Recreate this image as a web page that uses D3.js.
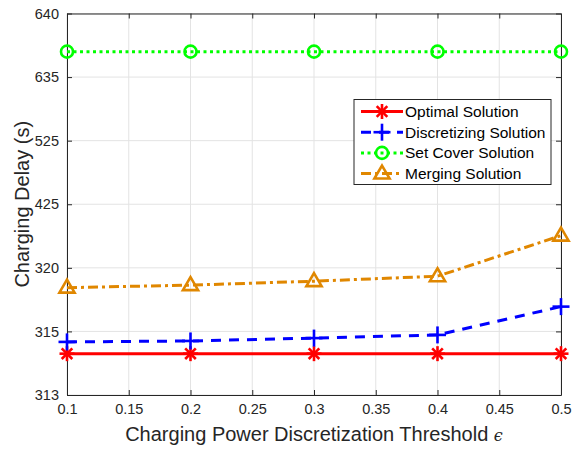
<!DOCTYPE html>
<html>
<head>
<meta charset="utf-8">
<script src="https://cdn.jsdelivr.net/npm/d3@7"></script>
<style>
  html, body { margin: 0; padding: 0; background: #fff; }
  svg { display: block; font-family: "Liberation Sans", Arial, Helvetica, sans-serif; }
</style>
</head>
<body>
<svg id="chart" width="576" height="452"></svg>
<script>
// Threshold values on the x axis
const thresholds = [0.1, 0.2, 0.3, 0.4, 0.5];
const xTicks = [0.1, 0.15, 0.2, 0.25, 0.3, 0.35, 0.4, 0.45, 0.5];
// Non-uniform y tick values (each band gets the same height)
const yTicks = [313, 315, 320, 425, 525, 635, 640];

// Charging delay (s) per method
const optimalDelay = [314.3, 314.3, 314.3, 314.3, 314.3];
const discretizingDelay = [314.67, 314.7, 314.79, 314.89, 316.95];
const setCoverDelay = [637.0, 637.0, 637.0, 637.0, 637.0];
const mergingDelay = [318.44, 318.64, 318.95, 319.34, 373.2];

const seriesNames = ["Optimal Solution", "Discretizing Solution", "Set Cover Solution", "Merging Solution"];

const margin = { left: 67, right: 15, top: 13.5, bottom: 57 };
const W = 576, H = 452;
const svg = d3.select("#chart");
const plotW = W - margin.left - margin.right;
const plotH = H - margin.top - margin.bottom;

const x = d3.scaleLinear().domain([0.1, 0.5]).range([margin.left, margin.left + plotW]);
// piecewise scale: every tick interval spans an equal share of the height
const y = d3.scaleLinear()
  .domain(yTicks)
  .range(yTicks.map((d, i) => margin.top + plotH - i * plotH / (yTicks.length - 1)));

const axisColor = "#262626";
const gridColor = "#e3e3e3";

// grid
const g = svg.append("g");
g.selectAll(".vg").data(xTicks).join("line")
  .attr("x1", d => x(d)).attr("x2", d => x(d))
  .attr("y1", margin.top).attr("y2", margin.top + plotH)
  .attr("stroke", gridColor).attr("stroke-width", 1);
g.selectAll(".hg").data(yTicks).join("line")
  .attr("x1", margin.left).attr("x2", margin.left + plotW)
  .attr("y1", d => y(d)).attr("y2", d => y(d))
  .attr("stroke", gridColor).attr("stroke-width", 1);

// axes
const xAxis = d3.axisBottom(x).tickValues(xTicks).tickSizeInner(-5).tickSizeOuter(0).tickPadding(9)
  .tickFormat(d => d3.format("")(+d.toFixed(2)));
const yAxis = d3.axisLeft(y).tickValues(yTicks).tickSizeInner(-5).tickSizeOuter(0).tickPadding(8)
  .tickFormat(d3.format("d"));
const xTop = d3.axisTop(x).tickValues(xTicks).tickSizeInner(-5).tickSizeOuter(0).tickFormat("");
const yRight = d3.axisRight(y).tickValues(yTicks).tickSizeInner(-5).tickSizeOuter(0).tickFormat("");

function styleAxis(sel) {
  sel.select(".domain").attr("stroke", axisColor).attr("stroke-width", 1);
  sel.selectAll(".tick line").attr("stroke", axisColor);
  sel.selectAll(".tick text").attr("fill", axisColor).attr("font-size", 14.5)
    .attr("font-family", "'Liberation Sans', Arial, sans-serif");
}
svg.append("g").attr("transform", `translate(0,${margin.top + plotH})`).call(xAxis).call(styleAxis);
svg.append("g").attr("transform", `translate(${margin.left},0)`).call(yAxis).call(styleAxis);
svg.append("g").attr("transform", `translate(0,${margin.top})`).call(xTop).call(styleAxis);
svg.append("g").attr("transform", `translate(${margin.left + plotW},0)`).call(yRight).call(styleAxis);

// axis titles
svg.append("text")
  .attr("x", margin.left + plotW / 2).attr("y", 441)
  .attr("text-anchor", "middle").attr("font-size", 20).attr("fill", axisColor)
  .text("Charging Power Discretization Threshold ")
  .append("tspan").attr("font-family", "'DejaVu Serif', serif").attr("font-style", "italic")
  .attr("font-size", 16).text("\u03f5");
svg.append("text")
  .attr("transform", `translate(29,${margin.top + plotH / 2}) rotate(-90)`)
  .attr("text-anchor", "middle").attr("font-size", 20).attr("fill", axisColor)
  .text("Charging Delay (s)");

const series = [
  { name: seriesNames[0], values: optimalDelay, color: "#ff0000", dash: null, marker: "star" },
  { name: seriesNames[1], values: discretizingDelay, color: "#0000ff", dash: "10,8", marker: "plus" },
  { name: seriesNames[2], values: setCoverDelay, color: "#00ff00", dash: "3,3.5", marker: "circle" },
  { name: seriesNames[3], values: mergingDelay, color: "#e08700", dash: "10,4,3,4", marker: "triangle" }
];

function drawMarker(sel, type, color, cx, cy) {
  const m = sel.append("g").attr("transform", `translate(${cx},${cy})`)
    .attr("fill", "none").attr("stroke", color).attr("stroke-width", 2.6);
  const r = 7.5;
  if (type === "star") {
    for (let k = 0; k < 4; k++) {
      const a = k * Math.PI / 4;
      m.append("line").attr("x1", -r * Math.cos(a)).attr("y1", -r * Math.sin(a))
        .attr("x2", r * Math.cos(a)).attr("y2", r * Math.sin(a));
    }
  } else if (type === "plus") {
    const p = 8.5;
    m.append("line").attr("x1", -p).attr("x2", p).attr("y1", 0).attr("y2", 0);
    m.append("line").attr("y1", -p).attr("y2", p).attr("x1", 0).attr("x2", 0);
  } else if (type === "circle") {
    m.append("circle").attr("r", 6);
  } else if (type === "triangle") {
    const t = 8;
    m.append("path").attr("d", `M0,${-t} L${t * 0.95},${t * 0.62} L${-t * 0.95},${t * 0.62} Z`)
      .attr("stroke-linejoin", "miter");
  }
}

const line = d3.line().x(d => x(d[0])).y(d => y(d[1]));
series.forEach(s => {
  const pts = thresholds.map((t, i) => [t, s.values[i]]);
  svg.append("path").datum(pts).attr("d", line)
    .attr("fill", "none").attr("stroke", s.color).attr("stroke-width", 3)
    .attr("stroke-dasharray", s.dash);
  pts.forEach(p => drawMarker(svg, s.marker, s.color, x(p[0]), y(p[1])));
});

// legend
const lg = svg.append("g");
lg.append("rect").attr("x", 354).attr("y", 99.5).attr("width", 197).attr("height", 85)
  .attr("fill", "#fff").attr("stroke", axisColor).attr("stroke-width", 1);
series.forEach((s, i) => {
  const yy = 111.5 + i * 20.7;
  lg.append("line").attr("x1", 361).attr("x2", 403).attr("y1", yy).attr("y2", yy)
    .attr("stroke", s.color).attr("stroke-width", 3).attr("stroke-dasharray", s.dash);
  drawMarker(lg, s.marker, s.color, 382, yy);
  lg.append("text").attr("x", 405).attr("y", yy + 5.4).attr("font-size", 15.5)
    .attr("fill", "#000").text(s.name);
});
</script>
</body>
</html>
